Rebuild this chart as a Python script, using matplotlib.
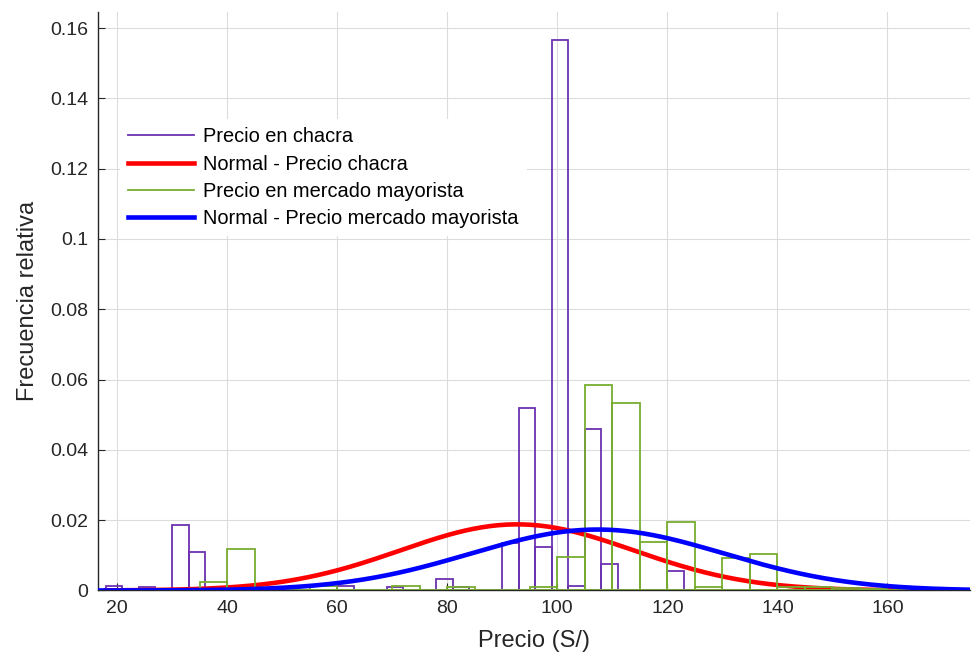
import numpy as np
import matplotlib
matplotlib.use("Agg")
import matplotlib.pyplot as plt

plt.rcParams['font.family'] = ['Liberation Sans', 'DejaVu Sans']

# ---- data ----
# Precio en chacra: bin width 3, left edges from 18
chacra_edges = list(range(18, 169, 3))
chacra_vals = [0.0013, 0, 0.0010, 0, 0.0186, 0.0109, 0, 0, 0, 0,
               0, 0, 0, 0, 0.0013, 0, 0, 0.0010, 0, 0,
               0.0032, 0.0010, 0, 0, 0.0134, 0.0518, 0.0125, 0.1567, 0.0013, 0.0460,
               0.0075, 0, 0, 0, 0.0055, 0, 0, 0, 0, 0,
               0, 0, 0, 0, 0, 0, 0, 0, 0, 0]
# Precio en mercado mayorista: bin width 5, left edges from 35
mayor_edges = list(range(35, 166, 5))
mayor_vals = [0.0023, 0.0118, 0, 0, 0.0013, 0, 0, 0.0013, 0, 0.0010,
              0, 0, 0.0011, 0.0094, 0.0585, 0.0533, 0.0137, 0.0196, 0.0011, 0.0092,
              0.0104, 0.0010, 0.0010, 0.0008, 0.0005, 0]
# fitted normal parameters
chacra_mu, chacra_sigma = 92.7, 21.2
mayor_mu, mayor_sigma = 107.3, 23.0

xticks = [20, 40, 60, 80, 100, 120, 140, 160]
yticks = [0, 0.02, 0.04, 0.06, 0.08, 0.1, 0.12, 0.14, 0.16]
ytick_labels = ['0', '0.02', '0.04', '0.06', '0.08', '0.1', '0.12', '0.14', '0.16']

labels = ['Precio en chacra', 'Normal - Precio chacra',
          'Precio en mercado mayorista', 'Normal - Precio mercado mayorista']

# ---- plot ----
fig = plt.figure(figsize=(9.72, 6.64), dpi=100)
ax = fig.add_axes([0.1005, 0.1107, 0.8975, 0.8708])

purple = '#6b32b0'
green = '#77ac30'

def normpdf(x, mu, s):
    return np.exp(-0.5 * ((x - mu) / s) ** 2) / (s * np.sqrt(2 * np.pi))

ce = np.array(chacra_edges, dtype=float)
cv = np.array(chacra_vals[:len(ce) - 1])
ax.bar(ce[:-1], cv, width=np.diff(ce), align='edge', fill=False,
       edgecolor=purple, linewidth=1.3, zorder=3)
h1 = plt.Line2D([], [], color=purple, lw=1.3)

xr = np.linspace(18, 167, 300)
h2, = ax.plot(xr, normpdf(xr, chacra_mu, chacra_sigma), color='#ff0000', lw=3.3, zorder=4)

me = np.array(mayor_edges, dtype=float)
mv = np.array(mayor_vals[:len(me) - 1])
ax.bar(me[:-1], mv, width=np.diff(me), align='edge', fill=False,
       edgecolor=green, linewidth=1.3, zorder=5)
h3 = plt.Line2D([], [], color=green, lw=1.3)

xb = np.linspace(16.5, 175, 300)
h4, = ax.plot(xb, normpdf(xb, mayor_mu, mayor_sigma), color='#0000ff', lw=3.3, zorder=6)

ax.set_xlim(16.5, 175)
ax.set_ylim(0, 0.1645)
ax.set_xticks(xticks)
ax.set_yticks(yticks)
ax.set_yticklabels(ytick_labels)
ax.tick_params(direction='in', length=5, labelsize=14, colors='#262626', pad=7)
ax.grid(True, color='#dcdcdc', lw=0.8)
ax.set_axisbelow(True)
for s in ['top', 'right']:
    ax.spines[s].set_visible(False)
for s in ['left', 'bottom']:
    ax.spines[s].set_color('#262626')
    ax.spines[s].set_linewidth(1.0)

ax.set_xlabel('Precio (S/)', fontsize=17, color='#262626', labelpad=9)
ax.set_ylabel('Frecuencia relativa', fontsize=17, color='#262626', labelpad=8)

leg = ax.legend([h1, h2, h3, h4], labels, loc='upper left',
                bbox_to_anchor=(0.026, 0.815), fontsize=14.4, frameon=True,
                handlelength=3.3, handletextpad=0.45, labelspacing=0.42,
                borderaxespad=0, fancybox=False)
leg.get_frame().set_facecolor('white')
leg.get_frame().set_edgecolor('none')
leg.get_frame().set_alpha(1)
leg.set_zorder(10)

fig.savefig('out.png', dpi=100)
